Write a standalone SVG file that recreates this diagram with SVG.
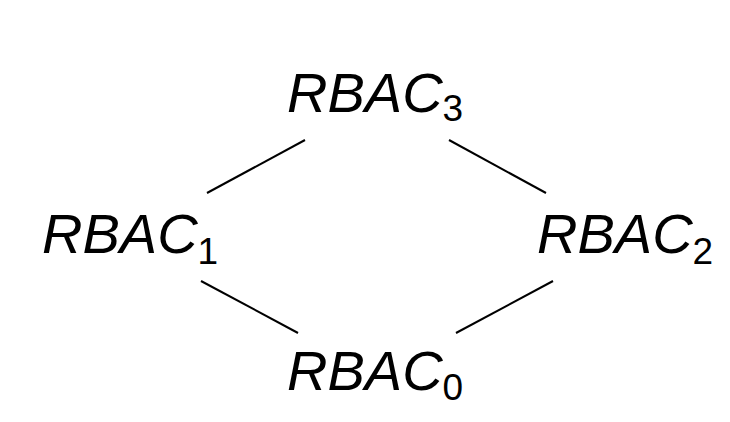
<svg xmlns="http://www.w3.org/2000/svg" width="730" height="422" viewBox="0 0 730 422">
<style>
.lbl{font-family:"Liberation Sans",Arial,sans-serif;font-style:italic;font-size:56px;fill:#000}
.sub{font-style:normal;font-size:37px}
.edge{stroke:#000;stroke-width:2;fill:none}
</style>
<rect width="730" height="422" fill="#fff"/>
<g id="connectors">
<line class="edge" x1="207" y1="193" x2="305" y2="140"/>
<line class="edge" x1="449" y1="140" x2="546" y2="193"/>
<line class="edge" x1="201" y1="281" x2="298" y2="333"/>
<line class="edge" x1="456" y1="333" x2="553" y2="281"/>
</g>
<g id="rbac3"><text class="lbl" x="287" y="112">RBAC<tspan class="sub" dy="9">3</tspan></text></g>
<g id="rbac1"><text class="lbl" x="42" y="253">RBAC<tspan class="sub" dy="11">1</tspan></text></g>
<g id="rbac2"><text class="lbl" x="537" y="253">RBAC<tspan class="sub" dy="11">2</tspan></text></g>
<g id="rbac0"><text class="lbl" x="287" y="390">RBAC<tspan class="sub" dy="10">0</tspan></text></g>
</svg>
